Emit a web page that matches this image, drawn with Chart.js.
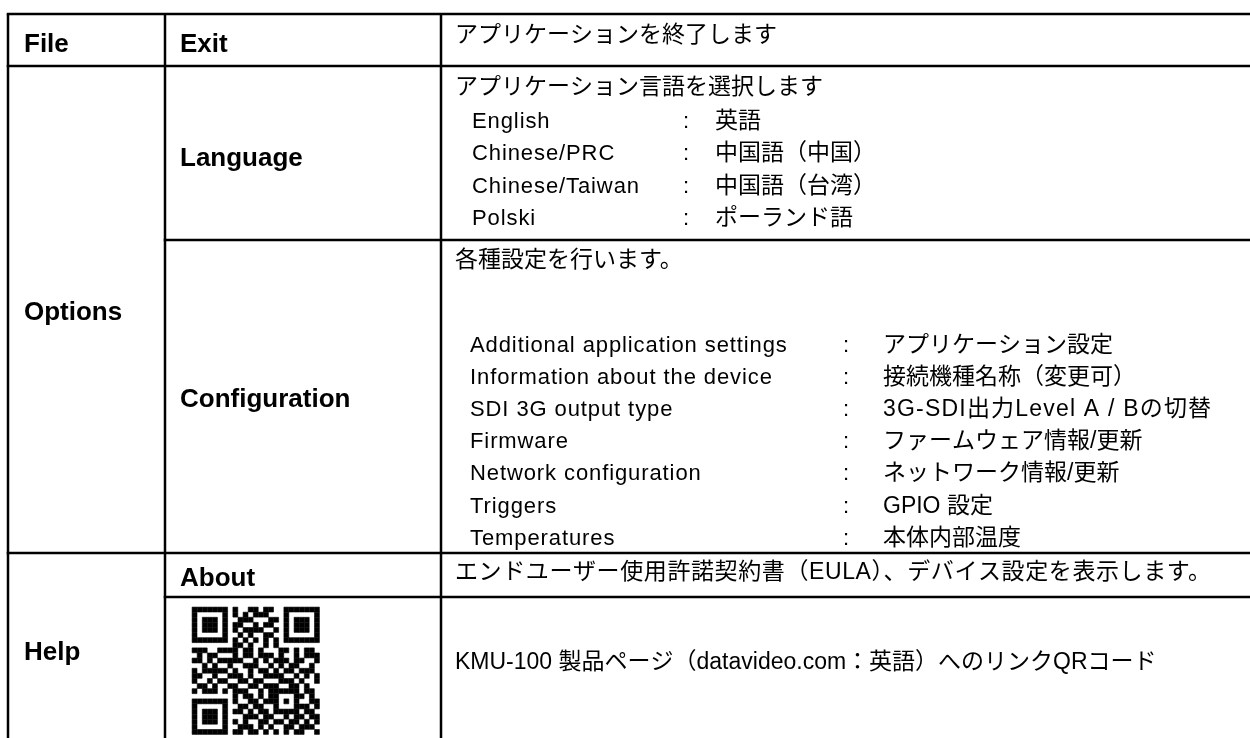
<!DOCTYPE html>
<html>
    <head>
        <meta charset="utf-8">
        <title>KMU-100 Menu</title>
        <style>
            html, body { margin: 0; background: #fff; }
            #wrap { width: 1250px; height: 738px; }
        </style>
    </head>
    <body>
        <div id="wrap"><canvas id="menuChart"></canvas></div>
        <script src="https://cdn.jsdelivr.net/npm/chart.js"></script>
        <script>
            // table content
            const menus = ['File', 'Options', 'Help'];
            const items = ['Exit', 'Language', 'Configuration', 'About'];
            const exitText = 'アプリケーションを終了します';
            const languageText = 'アプリケーション言語を選択します';
            const languageNames = ['English', 'Chinese/PRC', 'Chinese/Taiwan', 'Polski'];
            const languageValues = ['英語', '中国語（中国）', '中国語（台湾）', 'ポーランド語'];
            const configText = '各種設定を行います。';
            const configNames = ['Additional application settings', 'Information about the device', 'SDI 3G output type',
                'Firmware', 'Network configuration', 'Triggers', 'Temperatures'];
            const configValues = ['アプリケーション設定', '接続機種名称（変更可）', '3G-SDI出力Level A / Bの切替',
                'ファームウェア情報/更新', 'ネットワーク情報/更新', 'GPIO 設定', '本体内部温度'];
            const aboutText = 'エンドユーザー使用許諾契約書（EULA）、デバイス設定を表示します。';
            const qrText = 'KMU-100 製品ページ（datavideo.com：英語）へのリンクQRコード';

            // QR code modules, row by row (1 = dark)
            const qrRows = [
                '1111111 0 100110110 0 1111111',
                '1000001 0 101011100 0 1000001',
                '1011101 0 011100011 0 1011101',
                '1011101 0 110010110 0 1011101',
                '1011101 0 101111001 0 1011101',
                '1000001 0 010100110 0 1000001',
                '1111111 0 101010101 0 1111111',
                '0000000 0 110100101 0 0000000',
                '111001 1 110110100011010110',
                '010110 0 010110111010010111',
                '110101 1 111001010111011001',
                '001010 0 100111001010110010',
                '101111 1 010010110101101110',
                '110010 0 111010011110010101',
                '100101 1 001101100011101001',
                '011010 0 110011011100110100',
                '101110 1 011100101 11111 0110',
                '00000000 1 0110101 10001 1010',
                '1111111 0 10011011 10101 0011',
                '1000001 0 01101100 10001 1101',
                '1011101 0 11010110 11111 0110',
                '1011101 0 00111011 00101 1011',
                '1011101 0 10100110 11011 0101',
                '1000001 0 01110101 00110 1110',
                '1111111 0 11011010 10101 1001'
            ];

            // layout (pixels of the 1250x738 page)
            const hLines = [[14, 8, 1250], [66, 8, 1250], [240, 165, 1250], [553, 8, 1250], [597, 165, 1250]];
            const vLines = [[8, 14, 738], [165, 14, 738], [441, 14, 738]];
            const qrLeft = 192, qrTop = 607, qrModule = 5.1;

            const headFont = 'bold 26px "Liberation Sans", Arial, sans-serif';
            const bodyFont = '23px "Liberation Sans", "Noto Sans CJK JP", sans-serif';
            const subFont = '22px "Liberation Sans", "Noto Sans CJK JP", sans-serif';
            const jpFont = '23px "Noto Sans CJK JP", sans-serif';

            const qrPoints = [];
            qrRows.forEach((row, r) => {
                row.replace(/ /g, '').split('').forEach((bit, c) => {
                    if (bit === '1') {
                        qrPoints.push({ x: qrLeft + (c + 0.5) * qrModule, y: qrTop + (r + 0.5) * qrModule });
                    }
                });
            });

            const tablePlugin = {
                id: 'tablePlugin',
                beforeDatasetsDraw(chart) {
                    const ctx = chart.ctx;
                    const sx = chart.scales.x, sy = chart.scales.y;
                    const px = v => sx.getPixelForValue(v);
                    const py = v => sy.getPixelForValue(v);

                    ctx.save();
                    ctx.strokeStyle = '#000';
                    ctx.lineWidth = 2.5;
                    hLines.forEach(([y, x0, x1]) => {
                        ctx.beginPath(); ctx.moveTo(px(x0) - 1.25, py(y)); ctx.lineTo(px(x1), py(y)); ctx.stroke();
                    });
                    vLines.forEach(([x, y0, y1]) => {
                        ctx.beginPath(); ctx.moveTo(px(x), py(y0)); ctx.lineTo(px(x), py(y1)); ctx.stroke();
                    });

                    ctx.fillStyle = '#000';
                    ctx.textBaseline = 'alphabetic';
                    ctx.textAlign = 'left';
                    const text = (s, x, y, font, spacing) => {
                        ctx.font = font;
                        ctx.letterSpacing = (spacing || 0) + 'px';
                        ctx.fillText(s, px(x), py(y));
                    };

                    // first column
                    text(menus[0], 24, 52, headFont);
                    text(menus[1], 24, 320, headFont);
                    text(menus[2], 24, 660, headFont);

                    // second column
                    text(items[0], 180, 52, headFont);
                    text(items[1], 180, 166, headFont);
                    text(items[2], 180, 407, headFont);
                    text(items[3], 180, 586, headFont);

                    // descriptions
                    text(exitText, 455, 42, bodyFont);
                    text(languageText, 455, 94, bodyFont);
                    languageNames.forEach((name, i) => {
                        const base = 128 + i * 32.4;
                        text(name, 472, base, subFont, 0.9);
                        text(':', 683, base, subFont);
                        text(languageValues[i], 715, base, jpFont);
                    });
                    text(configText, 455, 267, bodyFont);
                    configNames.forEach((name, i) => {
                        const base = 352 + i * 32.1;
                        text(name, 470, base, subFont, 0.9);
                        text(':', 843, base, subFont);
                        text(configValues[i], 883, base, bodyFont, i === 2 ? 1.2 : 0);
                    });
                    text(aboutText, 455, 579, bodyFont, 0.6);
                    text(qrText, 455, 669, bodyFont);
                    ctx.restore();
                }
            };

            const ctx = document.getElementById('menuChart').getContext('2d');
            const menuChart = new Chart(ctx, {
                type: 'scatter',
                data: {
                    datasets: [{
                        label: 'QR',
                        data: qrPoints,
                        pointStyle: 'rect',
                        pointRadius: (qrModule - 0.2) / Math.SQRT2,
                        pointHoverRadius: (qrModule - 0.2) / Math.SQRT2,
                        backgroundColor: '#000',
                        borderColor: '#000',
                        borderWidth: 0.6
                    }]
                },
                options: {
                    responsive: true,
                    maintainAspectRatio: false,
                    animation: false,
                    events: [],
                    layout: { padding: 0, autoPadding: false },
                    plugins: { legend: { display: false }, tooltip: { enabled: false } },
                    scales: {
                        x: { type: 'linear', min: 0, max: 1250, display: false },
                        y: { type: 'linear', min: 0, max: 738, reverse: true, display: false }
                    }
                },
                plugins: [tablePlugin]
            });
        </script>
    </body>
</html>
